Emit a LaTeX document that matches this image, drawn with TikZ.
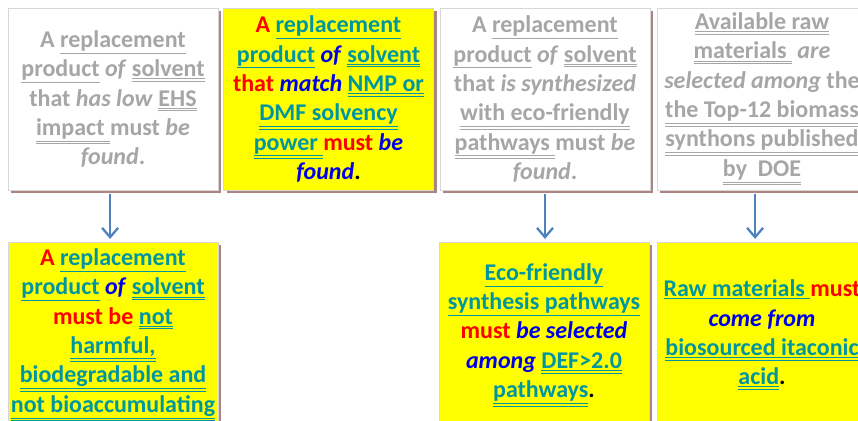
\documentclass[tikz,border=0pt]{standalone}
\usepackage{fontspec}
\setmainfont{Carlito}
\usetikzlibrary{arrows.meta,shadows}
\definecolor{greytxt}{RGB}{166,166,166}
\definecolor{tealtxt}{RGB}{0,150,160}
\definecolor{redtxt}{RGB}{255,0,0}
\definecolor{bluetxt}{RGB}{0,0,230}
\definecolor{shadowc}{RGB}{172,132,132}
\definecolor{edgec}{RGB}{215,215,215}
\definecolor{arrowc}{RGB}{79,129,189}
\definecolor{boxyellow}{RGB}{255,255,0}
\newcommand\uone[1]{\underline{#1}}
\newcommand\utwo[1]{\underline{\underline{#1}}}
\newcommand\rd[1]{\textcolor{redtxt}{#1}}
\newcommand\bl[1]{\textcolor{bluetxt}{\textit{#1}}}
\newcommand\blk[1]{\textcolor{black}{#1}}
\tikzset{font=\fontsize{18}{22}\selectfont\bfseries}
\tikzset{
  card/.style={draw=edgec,line width=0.6pt,align=center,inner sep=0pt,
    minimum width=157.5pt,
    drop shadow={shadow xshift=2.6pt,shadow yshift=-2.6pt,fill=shadowc,opacity=1}},
  goalbox/.style={card,fill=white,text=greytxt,minimum height=136.5pt},
  topbox/.style={card,fill=boxyellow,text=tealtxt,minimum height=136.5pt},
  needbox/.style={card,fill=boxyellow,text=tealtxt,minimum height=139.5pt},
  flow/.style={draw=arrowc,line width=1.7pt,-{Straight Barb[length=7pt,width=12pt]},
    shorten <=2.5pt,shorten >=2pt}
}

\begin{document}
\begin{tikzpicture}[x=0.75pt,y=-0.75pt]
  \useasboundingbox (0,0) rectangle (858,421);
  \clip (0,0) rectangle (858,421);

  % top row
  \node[goalbox] (ehs) at (113,99) {A \uone{replacement}\\
    \uone{product} \textit{of} \utwo{solvent}\\
    that \textit{has low} \utwo{EHS}\\
    \utwo{impact\ }must \textit{be}\\
    \textit{found}.};
  \node[topbox] (dmf) at (328.5,99) {\rd{A} \uone{replacement}\\
    \uone{product} \bl{of} \utwo{solvent}\\
    \rd{that} \bl{match} \utwo{NMP or}\\
    \utwo{DMF solvency}\\
    \utwo{power\ }\rd{must} \bl{be}\\
    \bl{found}\blk{.}};
  \node[goalbox] (eco) at (545,99) {A \uone{replacement}\\
    \uone{product} \textit{of} \utwo{solvent}\\
    that \textit{is synthesized}\\
    \utwo{with eco-friendly}\\
    \utwo{pathways\ }must \textit{be}\\
    \textit{found}.};
  \node[goalbox] (doe) at (762,99) {\utwo{Available raw}\\
    \utwo{materials\ }\ \textit{are}\\
    \textit{selected among} the\\
    \utwo{the Top-12 biomass}\\
    \utwo{synthons published}\\
    \utwo{by\ \ DOE}};

  % bottom row
  \node[needbox] (safe) at (113,335) {\rd{A} \uone{replacement}\\
    \uone{product} \bl{of} \utwo{solvent}\\
    \rd{must be} \utwo{not}\\
    \utwo{harmful,}\\
    \utwo{biodegradable and}\\
    \utwo{not bioaccumulating}};
  \node[needbox] (def) at (544,335) {\uone{Eco-friendly}\\
    \uone{synthesis pathways}\\
    \rd{must} \bl{be selected}\\
    \bl{among} \utwo{DEF>2.0}\\
    \utwo{pathways}\blk{.}};
  \node[needbox] (itac) at (762,335) {\uone{Raw materials\ }\rd{must}\\
    \bl{come from}\\
    \utwo{biosourced itaconic}\\
    \utwo{acid}\blk{.}};

  \draw[flow] ([xshift=-2.2pt]ehs.south) -- ([xshift=-2.2pt]safe.north);
  \draw[flow] (eco.south) -- ([xshift=0.75pt]def.north);
  \draw[flow] ([xshift=-5.2pt]doe.south) -- ([xshift=-5.2pt]itac.north);
\end{tikzpicture}
\end{document}
